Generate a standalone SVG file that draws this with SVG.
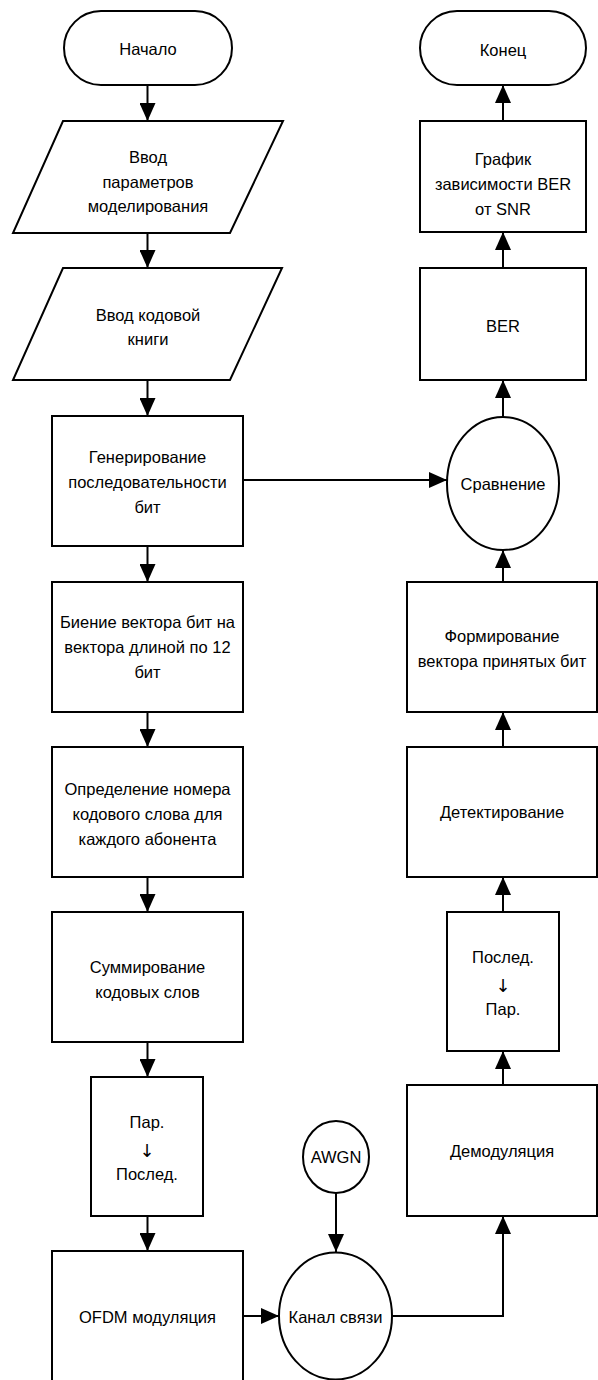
<svg xmlns="http://www.w3.org/2000/svg" width="598" height="1380" viewBox="0 0 598 1380">
<style>
.s{fill:#fff;stroke:#000;stroke-width:2}
.t{font-family:"Liberation Sans",Arial,sans-serif;font-size:16.5px;fill:#000;text-anchor:middle}
.a{font-family:"DejaVu Sans",sans-serif;font-size:18px;font-weight:normal;fill:#000;text-anchor:middle}
.c{fill:none;stroke:#000;stroke-width:2}
</style>
<defs>
<marker id="ah" markerUnits="userSpaceOnUse" markerWidth="18" markerHeight="16" refX="18" refY="8" orient="auto" viewBox="0 0 18 16">
<path d="M0,0 L18,8 L0,16 Z" fill="#000"/>
</marker>
</defs>
<rect width="598" height="1380" fill="#fff"/>
<g id="connectors">
<line class="c" x1="147.5" y1="85" x2="147.5" y2="121" marker-end="url(#ah)"/>
<line class="c" x1="147.5" y1="233" x2="147.5" y2="268" marker-end="url(#ah)"/>
<line class="c" x1="147.5" y1="380" x2="147.5" y2="416" marker-end="url(#ah)"/>
<line class="c" x1="147.5" y1="546" x2="147.5" y2="582" marker-end="url(#ah)"/>
<line class="c" x1="147.5" y1="712" x2="147.5" y2="747" marker-end="url(#ah)"/>
<line class="c" x1="147.5" y1="877" x2="147.5" y2="912" marker-end="url(#ah)"/>
<line class="c" x1="147.5" y1="1042" x2="147.5" y2="1077" marker-end="url(#ah)"/>
<line class="c" x1="147.5" y1="1216" x2="147.5" y2="1251" marker-end="url(#ah)"/>
<line class="c" x1="243" y1="1316" x2="279" y2="1316" marker-end="url(#ah)"/>
<line class="c" x1="336" y1="1193" x2="336" y2="1252" marker-end="url(#ah)"/>
<polyline class="c" points="392,1316 503,1316 503,1216" marker-end="url(#ah)"/>
<line class="c" x1="503" y1="1085" x2="503" y2="1051" marker-end="url(#ah)"/>
<line class="c" x1="503" y1="912" x2="503" y2="877" marker-end="url(#ah)"/>
<line class="c" x1="503" y1="747" x2="503" y2="712" marker-end="url(#ah)"/>
<line class="c" x1="503" y1="582" x2="503" y2="550" marker-end="url(#ah)"/>
<line class="c" x1="503" y1="417" x2="503" y2="380" marker-end="url(#ah)"/>
<line class="c" x1="503" y1="268" x2="503" y2="232" marker-end="url(#ah)"/>
<line class="c" x1="503" y1="121" x2="503" y2="85" marker-end="url(#ah)"/>
<line class="c" x1="243" y1="480" x2="447" y2="480" marker-end="url(#ah)"/>
</g>
<g id="start">
<rect class="s" x="64" y="11" width="168" height="74" rx="37" ry="37"/>
<text class="t" x="148" y="55">Начало</text>
</g>
<g id="input-params">
<polygon class="s" points="63,121 283,121 230,233 13,233"/>
<text class="t" x="148" y="163">Ввод</text>
<text class="t" x="148" y="188">параметров</text>
<text class="t" x="148" y="212">моделирования</text>
</g>
<g id="input-codebook">
<polygon class="s" points="63,268 282,268 230,380 13,380"/>
<text class="t" x="148" y="321">Ввод кодовой</text>
<text class="t" x="148" y="345">книги</text>
</g>
<g id="generate">
<rect class="s" x="52" y="416" width="191" height="130"/>
<text class="t" x="147.5" y="463">Генерирование</text>
<text class="t" x="147.5" y="488">последовательности</text>
<text class="t" x="147.5" y="513">бит</text>
</g>
<g id="split">
<rect class="s" x="52" y="582" width="191" height="130"/>
<text class="t" x="147.5" y="628">Биение вектора бит на</text>
<text class="t" x="147.5" y="653">вектора длиной по 12</text>
<text class="t" x="147.5" y="678">бит</text>
</g>
<g id="codeword">
<rect class="s" x="52" y="747" width="191" height="130"/>
<text class="t" x="147.5" y="795">Определение номера</text>
<text class="t" x="147.5" y="820">кодового слова для</text>
<text class="t" x="147.5" y="845">каждого абонента</text>
</g>
<g id="sum">
<rect class="s" x="52" y="912" width="191" height="130"/>
<text class="t" x="147.5" y="973">Суммирование</text>
<text class="t" x="147.5" y="998">кодовых слов</text>
</g>
<g id="p2s">
<rect class="s" x="91" y="1077" width="112" height="139"/>
<text class="t" x="147" y="1128">Пар.</text>
<text class="a" x="147" y="1157">↓︎</text>
<text class="t" x="147" y="1180">Послед.</text>
</g>
<g id="ofdm">
<rect class="s" x="52" y="1251" width="191" height="131"/>
<text class="t" x="147.5" y="1323">OFDM модуляция</text>
</g>
<g id="channel">
<ellipse class="s" cx="335.5" cy="1316" rx="56.5" ry="63.5"/>
<text class="t" x="335.5" y="1323">Канал связи</text>
</g>
<g id="awgn">
<ellipse class="s" cx="336" cy="1157" rx="33" ry="36"/>
<text class="t" x="336" y="1163">AWGN</text>
</g>
<g id="demod">
<rect class="s" x="407" y="1085" width="190" height="131"/>
<text class="t" x="502" y="1157">Демодуляция</text>
</g>
<g id="s2p">
<rect class="s" x="447" y="912" width="112" height="139"/>
<text class="t" x="503" y="963">Послед.</text>
<text class="a" x="503" y="992">↓︎</text>
<text class="t" x="503" y="1015">Пар.</text>
</g>
<g id="detect">
<rect class="s" x="407" y="747" width="190" height="130"/>
<text class="t" x="502" y="818">Детектирование</text>
</g>
<g id="form">
<rect class="s" x="407" y="582" width="190" height="130"/>
<text class="t" x="502" y="642">Формирование</text>
<text class="t" x="502" y="667">вектора принятых бит</text>
</g>
<g id="compare">
<ellipse class="s" cx="503" cy="483.5" rx="56" ry="66.5"/>
<text class="t" x="503" y="490">Сравнение</text>
</g>
<g id="ber">
<rect class="s" x="420" y="268" width="166" height="112"/>
<text class="t" x="503" y="332">BER</text>
</g>
<g id="plot">
<rect class="s" x="420" y="121" width="166" height="111"/>
<text class="t" x="503" y="165">График</text>
<text class="t" x="503" y="190">зависимости BER</text>
<text class="t" x="503" y="215">от SNR</text>
</g>
<g id="end">
<rect class="s" x="420" y="11" width="166" height="74" rx="37" ry="37"/>
<text class="t" x="503" y="56">Конец</text>
</g>
</svg>
